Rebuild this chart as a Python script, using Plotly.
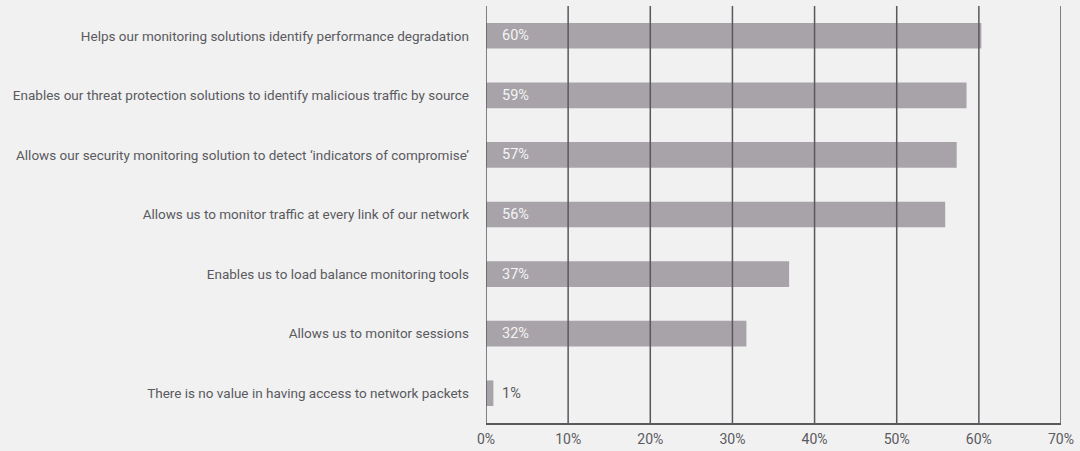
import plotly.graph_objects as go

categories = [
    "Helps our monitoring solutions identify performance degradation",
    "Enables our threat protection solutions to identify malicious traffic by source",
    "Allows our security monitoring solution to detect \u2018indicators of compromise\u2019",
    "Allows us to monitor traffic at every link of our network",
    "Enables us to load balance monitoring tools",
    "Allows us to monitor sessions",
    "There is no value in having access to network packets",
]
values = [60.3, 58.5, 57.3, 55.9, 36.9, 31.7, 0.9]
value_labels = ["60%", "59%", "57%", "56%", "37%", "32%", "1%"]
x_ticks = [0, 10, 20, 30, 40, 50, 60, 70]
x_tick_labels = ["0%", "10%", "20%", "30%", "40%", "50%", "60%", "70%"]

FONT = "Roboto, sans-serif"
BG = "#f1f1f1"
BAR = "#a8a3a8"
GRID = "#58585d"
TEXT = "#5a5a60"

fig = go.Figure()
fig.add_trace(go.Bar(
    x=values, y=categories, orientation="h",
    marker=dict(color=BAR, line=dict(width=0)),
    hoverinfo="skip",
))

# vertical gridlines drawn above the bars, as in the reference
for t in x_ticks:
    fig.add_shape(
        type="line", xref="x", yref="paper", x0=t, x1=t, y0=0, y1=1,
        line=dict(color=GRID, width=1.5), layer="above",
    )

for cat, v, lab in zip(categories, values, value_labels):
    fig.add_annotation(
        x=0, y=cat, xref="x", yref="y", text=lab, showarrow=False,
        xanchor="left", xshift=14,
        font=dict(family=FONT, size=14.5, color="#f4f4f4" if v > 5 else TEXT),
    )

fig.update_layout(
    width=1080, height=451,
    margin=dict(l=486, r=19, t=6, b=28),
    paper_bgcolor=BG, plot_bgcolor=BG,
    bargap=0.57,
    showlegend=False,
    font=dict(family=FONT, color=TEXT),
    xaxis=dict(
        range=[0, 70], tickvals=x_ticks, ticktext=x_tick_labels,
        showgrid=False, zeroline=False,
        showline=True, linecolor=GRID, linewidth=1.5,
        ticks="", ticklabelstandoff=3, automargin=False,
        tickfont=dict(family=FONT, size=14, color=TEXT),
        fixedrange=True,
    ),
    yaxis=dict(
        categoryorder="array", categoryarray=categories,
        autorange="reversed",
        showgrid=False, zeroline=False, showline=False,
        ticks="", ticklabelstandoff=16, automargin=False,
        tickfont=dict(family=FONT, size=13.5, color=TEXT),
        fixedrange=True,
    ),
)

fig.write_html(
    "out.html",
    config={"displayModeBar": False, "staticPlot": True},
    post_script="document.body.style.margin='0';document.body.style.overflow='hidden';",
)
